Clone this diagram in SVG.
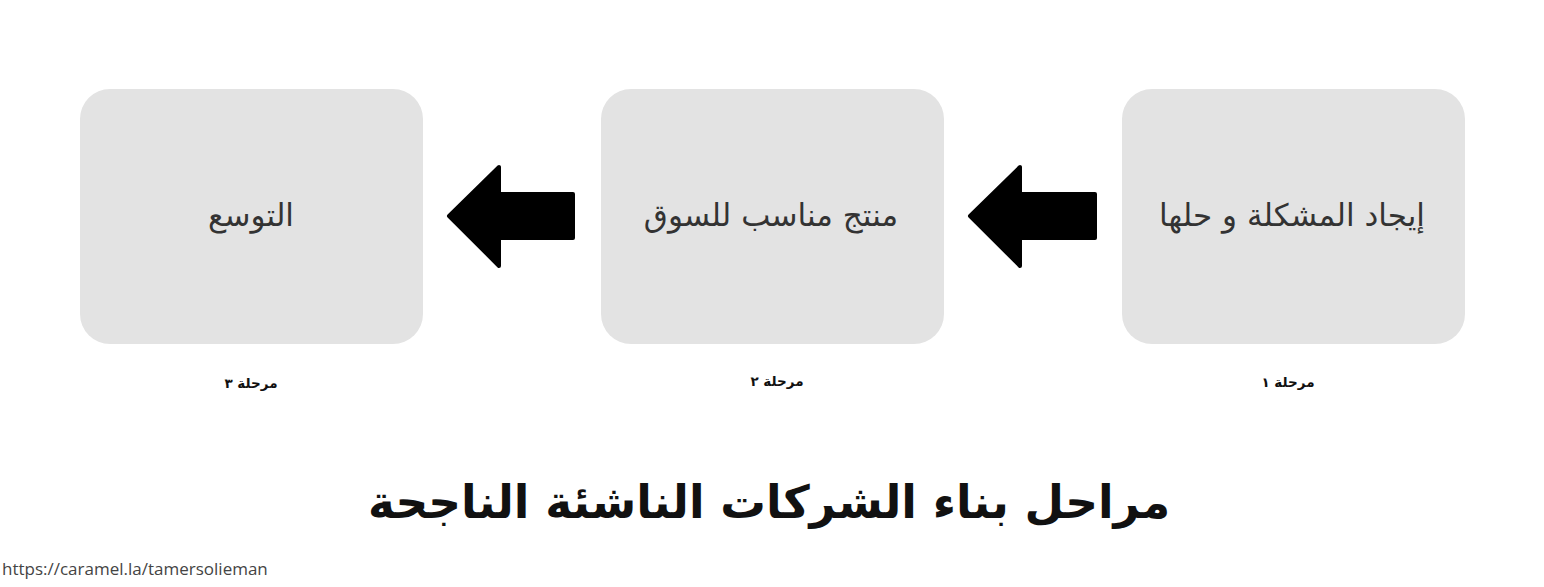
<svg xmlns="http://www.w3.org/2000/svg" width="1544" height="587" viewBox="0 0 1544 587">
<style>
.box{fill:#e3e3e3}
.lbl{font-family:"DejaVu Sans","Noto Sans",sans-serif;font-size:31px;fill:#333;text-anchor:middle}
.stage{font-family:"DejaVu Sans","Noto Sans",sans-serif;font-size:13.5px;font-weight:bold;fill:#111;text-anchor:middle}
.title{font-family:"DejaVu Sans","Noto Sans",sans-serif;font-size:45.5px;font-weight:bold;fill:#111;text-anchor:middle}
.url{font-family:"Open Sans","Liberation Sans",sans-serif;font-size:17px;fill:#444}
.arr{fill:#000;stroke:#000;stroke-width:4;stroke-linejoin:round}
</style>
<rect width="1544" height="587" fill="#fff"/>
<g id="stage1">
<rect class="box" x="1122" y="89" width="343" height="255" rx="30"/>
<text class="lbl" x="1292" y="226" direction="rtl">إيجاد المشكلة و حلها</text>
<text class="stage" x="1288" y="387" direction="rtl">مرحلة ١</text>
</g>
<g id="stage2">
<rect class="box" x="601" y="89" width="343" height="255" rx="30"/>
<text class="lbl" x="771" y="226" direction="rtl">منتج مناسب للسوق</text>
<text class="stage" x="777" y="386" direction="rtl">مرحلة ٢</text>
</g>
<g id="stage3">
<rect class="box" x="80" y="89" width="343" height="255" rx="30"/>
<text class="lbl" x="251" y="226" direction="rtl">التوسع</text>
<text class="stage" x="251" y="388" direction="rtl">مرحلة ٣</text>
</g>
<g id="connectors">
<path class="arr" d="M449,216 L499,167 L499,194 L573,194 L573,238 L499,238 L499,266 Z"/>
<path class="arr" d="M970,216 L1020,167 L1020,194 L1095,194 L1095,238 L1020,238 L1020,266 Z"/>
</g>
<text class="title" x="769" y="518" direction="rtl">مراحل بناء الشركات الناشئة الناجحة</text>
<text class="url" x="2" y="575">https://caramel.la/tamersolieman</text>
</svg>
